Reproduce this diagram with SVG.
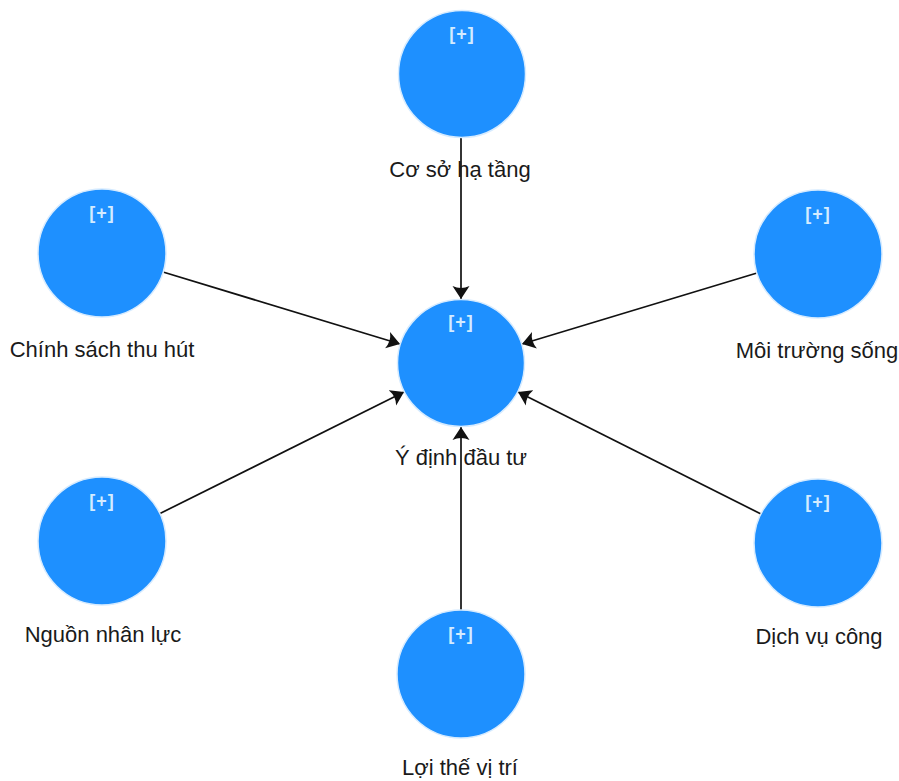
<svg xmlns="http://www.w3.org/2000/svg" width="899" height="781" viewBox="0 0 899 781">
  <style>
    .node circle { fill: #1e90ff; stroke: #d6ebff; stroke-width: 1.5; }
    .plus { font-family: "Liberation Sans", Arial, sans-serif; font-size: 18px; font-weight: bold; fill: #d4ebff; text-anchor: middle; letter-spacing: 1px; }
    .label { font-family: "Liberation Sans", Arial, sans-serif; font-size: 22px; fill: #1a1a1a; text-anchor: middle; }
    .edge { stroke: #111; stroke-width: 1.7; fill: none; marker-end: url(#arrow); }
  </style>
  <defs>
    <marker id="arrow" markerUnits="userSpaceOnUse" markerWidth="14" markerHeight="18" refX="13" refY="9" orient="auto" viewBox="0 0 14 18">
      <path d="M13,9 L0,0.5 Q4,9 0,17.5 Z" fill="#111"/>
    </marker>
  </defs>
  <rect width="899" height="781" fill="#ffffff"/>

  <g id="connectors">
    <line class="edge" x1="461" y1="138" x2="461" y2="299"/>
    <line class="edge" x1="461" y1="610" x2="461" y2="427"/>
    <line class="edge" x1="163" y1="272" x2="400" y2="344"/>
    <line class="edge" x1="757" y1="273" x2="522" y2="344"/>
    <line class="edge" x1="159" y1="514" x2="404" y2="392"/>
    <line class="edge" x1="761" y1="514" x2="518" y2="392"/>
  </g>

  <g id="node-co-so-ha-tang" class="node">
    <circle cx="462" cy="74" r="63.5"/>
    <text class="plus" x="462" y="40">[+]</text>
    <text class="label" x="460" y="177">Cơ sở hạ tầng</text>
  </g>
  <g id="node-y-dinh-dau-tu" class="node">
    <circle cx="461" cy="363" r="63.5"/>
    <text class="plus" x="461" y="328">[+]</text>
    <text class="label" x="461" y="465">Ý định đầu tư</text>
  </g>
  <g id="node-chinh-sach-thu-hut" class="node">
    <circle cx="102" cy="253" r="64"/>
    <text class="plus" x="102" y="219">[+]</text>
    <text class="label" x="102" y="357">Chính sách thu hút</text>
  </g>
  <g id="node-moi-truong-song" class="node">
    <circle cx="818" cy="254" r="64"/>
    <text class="plus" x="818" y="220">[+]</text>
    <text class="label" x="817" y="358">Môi trường sống</text>
  </g>
  <g id="node-nguon-nhan-luc" class="node">
    <circle cx="102" cy="541" r="64"/>
    <text class="plus" x="102" y="507">[+]</text>
    <text class="label" x="103" y="642">Nguồn nhân lực</text>
  </g>
  <g id="node-dich-vu-cong" class="node">
    <circle cx="818" cy="543" r="64"/>
    <text class="plus" x="818" y="508">[+]</text>
    <text class="label" x="819" y="644">Dịch vụ công</text>
  </g>
  <g id="node-loi-the-vi-tri" class="node">
    <circle cx="461" cy="674" r="64"/>
    <text class="plus" x="461" y="640">[+]</text>
    <text class="label" x="460" y="775">Lợi thế vị trí</text>
  </g>
</svg>
